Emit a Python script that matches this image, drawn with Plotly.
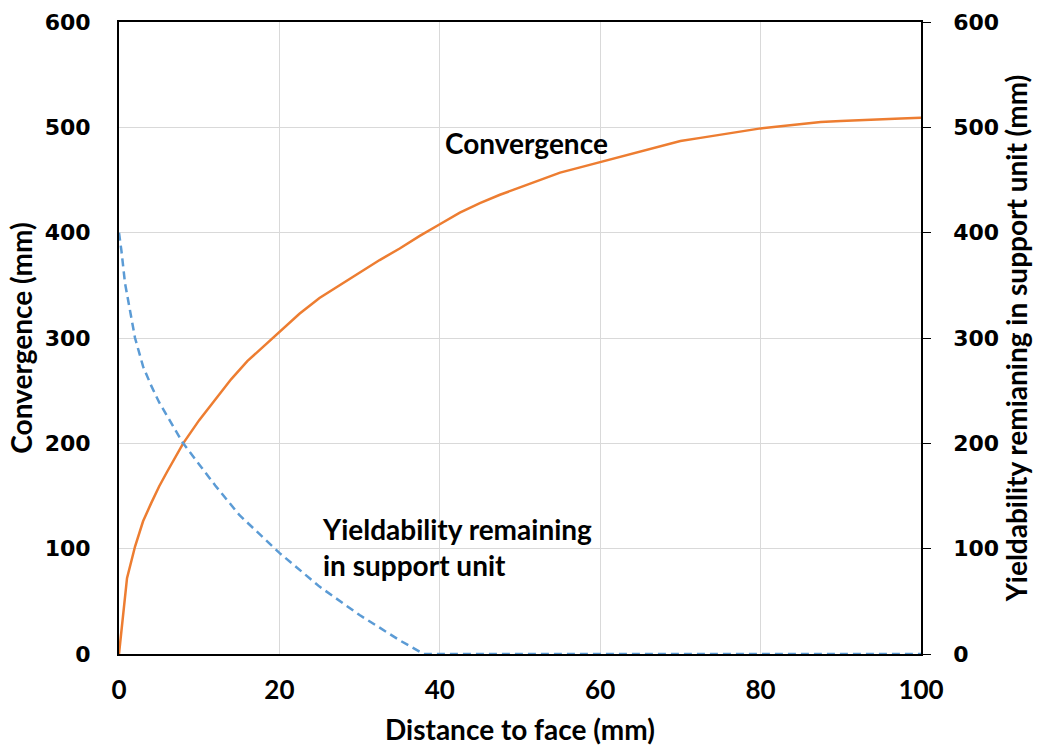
import plotly.graph_objects as go

# Convergence curve (mm) vs distance to face (mm)
conv_x = [0, 1, 2, 3, 4, 5, 6, 8, 10, 12, 14, 16, 18, 20, 22.5, 25, 27.5, 30, 32.5, 35, 37.5, 40,
          42.5, 45, 47.5, 50, 52.5, 55, 57.5, 60, 62.5, 65, 67.5, 70, 72.5, 75, 77.5, 80,
          82.5, 85, 87.5, 90, 92.5, 95, 97.5, 100]
conv_y = [0, 72, 102, 126, 143, 159, 173, 200, 222, 242, 261, 278, 292, 306, 323, 338, 350, 362, 374, 385, 397, 408,
          419, 428, 436, 443, 450, 457, 462, 467, 472, 477, 482, 487, 490, 493, 496, 499,
          501, 503, 505, 506, 507, 508, 508.5, 509]

# Yieldability remaining in support unit (mm)
yield_x = [0, 0.3, 0.75, 1.4, 2, 3, 4, 5, 6, 8, 10, 12, 15, 20, 25, 30, 35, 38, 40, 60, 80, 100]
yield_y = [400, 383, 352, 323, 300, 273, 255, 239, 226, 200, 180, 160, 132, 96, 64, 37, 13, 0, 0, 0, 0, 0]

x_ticks = [0, 20, 40, 60, 80, 100]
y_ticks = [0, 100, 200, 300, 400, 500, 600]

ORANGE = "#ED7D31"
BLUE = "#5B9BD5"
GRID = "#D9D9D9"
TITLE_FONT = dict(family="Lato", size=28, color="black", weight="bold")
XTICK_FONT = dict(family="Lato", size=26, color="black", weight="bold")
YTICK_FONT = dict(family="DejaVu Sans", size=22, color="black", weight="bold")
ANN_FONT = dict(family="Lato", size=28, color="black", weight="bold")

fig = go.Figure()
fig.add_trace(go.Scatter(x=conv_x, y=conv_y, mode="lines", name="Convergence",
                         line=dict(color=ORANGE, width=2.5), cliponaxis=False))
fig.add_trace(go.Scatter(x=yield_x, y=yield_y, mode="lines", name="Yieldability",
                         line=dict(color=BLUE, width=2.5, dash="8px,5px"),
                         yaxis="y2", cliponaxis=False))

fig.add_annotation(x=40.4, y=485, xref="x", yref="y", text="Convergence",
                   showarrow=False, xanchor="left", yanchor="middle", font=ANN_FONT)
fig.add_annotation(x=25.06, y=102, xref="x", yref="y",
                   text="Yieldability remaining<br>in support unit",
                   showarrow=False, xanchor="left", yanchor="middle", align="left", font=ANN_FONT)

fig.update_layout(
    width=1041, height=751,
    margin=dict(l=119, r=120, t=22, b=97),
    plot_bgcolor="white", paper_bgcolor="white",
    showlegend=False,
    xaxis=dict(range=[0, 100], tickvals=x_ticks, showgrid=True, gridcolor=GRID, gridwidth=1,
               zeroline=False, showline=True, linecolor="black", linewidth=2, mirror=True,
               ticks="", tickfont=XTICK_FONT, ticklabelstandoff=12, layer="below traces",
               automargin=False,
               title=dict(text="Distance to face (mm)", font=TITLE_FONT, standoff=16)),
    yaxis=dict(range=[0, 600], tickvals=y_ticks, showgrid=True, gridcolor=GRID, gridwidth=1,
               zeroline=False, showline=True, linecolor="black", linewidth=2,
               ticks="", tickfont=YTICK_FONT, ticklabelstandoff=22, layer="below traces",
               automargin=False,
               title=dict(text="Convergence (mm)", font=TITLE_FONT, standoff=4)),
    yaxis2=dict(range=[0, 600], tickvals=y_ticks, overlaying="y", side="right",
                showgrid=False, zeroline=False, showline=True, linecolor="black", linewidth=1.5,
                ticks="outside", ticklen=8, tickcolor="black", tickwidth=1,
                tickfont=YTICK_FONT, ticklabelstandoff=18, layer="below traces",
                automargin=False,
                title=dict(text="Yieldability remianing in support unit (mm)", font=TITLE_FONT, standoff=6)),
)

fig.write_html("out.html")
